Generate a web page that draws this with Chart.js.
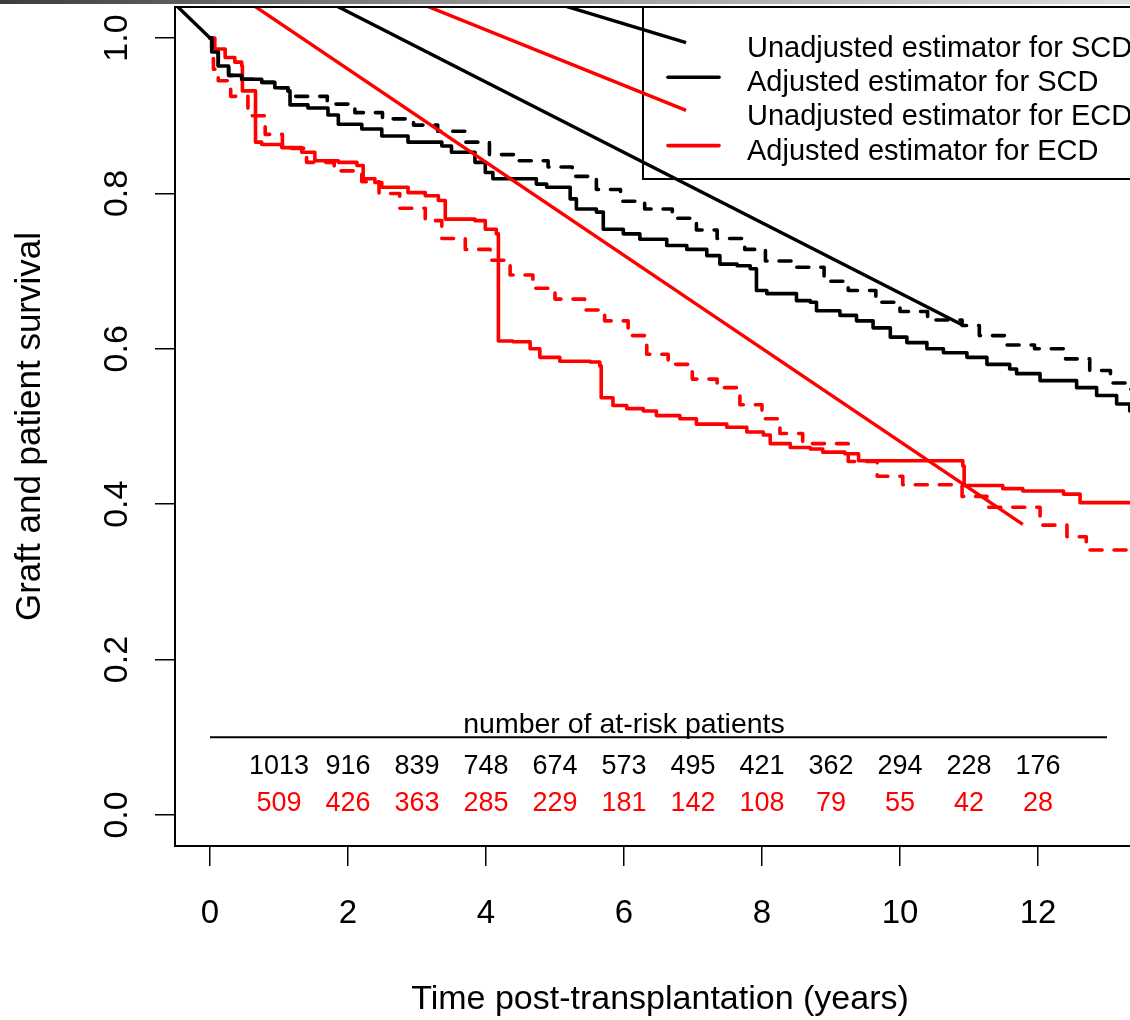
<!DOCTYPE html>
<html>
<head>
<meta charset="utf-8">
<script src="https://cdn.jsdelivr.net/npm/chart.js@4.4.1/dist/chart.umd.min.js"></script>
<style>
  html, body { margin: 0; padding: 0; background: #fff; overflow: hidden; }
  #wrap { position: relative; width: 1130px; height: 1020px; overflow: hidden; }
  #topbar { position: absolute; left: 0; top: 0; width: 1130px; height: 4px;
    background: linear-gradient(to right, #3c3c3c, #8e8e8e 40%, #dedede); }
  canvas { display: block; }
</style>
</head>
<body>
<div id="wrap">
  <canvas id="km" width="1145" height="1020"></canvas>
  <div id="topbar"></div>
</div>
<script>
const FONT = "'Liberation Sans', Arial, Helvetica, sans-serif";
const RED = '#ff0000';

const xTicks = [0, 2, 4, 6, 8, 10, 12];
const yTicks = [0, 0.2, 0.4, 0.6, 0.8, 1.0];

const legendLabels = [
  'Unadjusted estimator for SCD',
  'Adjusted estimator for SCD',
  'Unadjusted estimator for ECD',
  'Adjusted estimator for ECD'
];

// [years, survival] where each step lands
const scdAdjusted = [
  [0, 1.0], [0.025, 0.982], [0.12, 0.964], [0.27, 0.952], [0.46, 0.947], [0.75, 0.943],
  [0.94, 0.936], [1.13, 0.932], [1.16, 0.914], [1.42, 0.910], [1.71, 0.901], [1.86, 0.889],
  [2.20, 0.883], [2.49, 0.874], [2.87, 0.866], [3.36, 0.861], [3.50, 0.853], [3.84, 0.840],
  [3.99, 0.827], [4.10, 0.819], [4.73, 0.812], [4.88, 0.808], [5.22, 0.793], [5.31, 0.780],
  [5.60, 0.776], [5.70, 0.754], [5.99, 0.748], [6.23, 0.741], [6.62, 0.733], [6.91, 0.728],
  [7.20, 0.720], [7.39, 0.709], [7.64, 0.707], [7.83, 0.703], [7.92, 0.675], [8.07, 0.671],
  [8.50, 0.662], [8.70, 0.660], [8.79, 0.649], [9.13, 0.643], [9.37, 0.636], [9.61, 0.627],
  [9.86, 0.615], [10.10, 0.608], [10.39, 0.600], [10.63, 0.595], [10.97, 0.589], [11.26, 0.580],
  [11.59, 0.574], [11.69, 0.568], [12.03, 0.559], [12.56, 0.550], [12.85, 0.540], [13.14, 0.529],
  [13.33, 0.520], [13.60, 0.520]
];

const scdUnadjusted = [
  [0, 1.0], [0.025, 0.982], [0.12, 0.964], [0.27, 0.952], [0.46, 0.947], [0.75, 0.943],
  [0.94, 0.936], [1.13, 0.932], [1.20, 0.925], [1.70, 0.915], [2.10, 0.904], [2.50, 0.896],
  [2.95, 0.888], [3.30, 0.880], [3.70, 0.866], [4.05, 0.850], [4.45, 0.842], [4.90, 0.834],
  [5.25, 0.822], [5.60, 0.805], [5.95, 0.790], [6.30, 0.780], [6.70, 0.768], [7.05, 0.753],
  [7.35, 0.742], [7.75, 0.728], [8.05, 0.713], [8.45, 0.705], [8.90, 0.687], [9.25, 0.675],
  [9.65, 0.660], [10.00, 0.648], [10.40, 0.637], [10.90, 0.630], [11.15, 0.617], [11.55, 0.605],
  [11.95, 0.600], [12.40, 0.587], [12.75, 0.572], [13.05, 0.556], [13.33, 0.548], [13.60, 0.548]
];

const ecdAdjusted = [
  [0, 1.0], [0.07, 0.986], [0.22, 0.975], [0.36, 0.969], [0.46, 0.964], [0.47, 0.932],
  [0.66, 0.866], [0.75, 0.863], [1.04, 0.859], [1.33, 0.853], [1.52, 0.842], [1.86, 0.840],
  [2.13, 0.836], [2.22, 0.819], [2.39, 0.814], [2.49, 0.808], [2.87, 0.801], [3.12, 0.797],
  [3.31, 0.791], [3.41, 0.767], [3.84, 0.765], [3.99, 0.754], [4.15, 0.748], [4.18, 0.610],
  [4.39, 0.609], [4.64, 0.600], [4.78, 0.589], [5.07, 0.584], [5.51, 0.583], [5.65, 0.578],
  [5.67, 0.537], [5.84, 0.527], [6.04, 0.523], [6.28, 0.520], [6.47, 0.514], [6.81, 0.510],
  [7.05, 0.503], [7.49, 0.499], [7.78, 0.493], [8.02, 0.489], [8.12, 0.478], [8.41, 0.473],
  [8.70, 0.471], [8.88, 0.467], [9.20, 0.465], [9.40, 0.456], [10.91, 0.449], [10.93, 0.424],
  [11.49, 0.420], [11.78, 0.417], [12.37, 0.413], [12.61, 0.402], [13.60, 0.402]
];

const ecdUnadjusted = [
  [0, 1.0], [0.05, 0.960], [0.12, 0.945], [0.30, 0.925], [0.55, 0.900], [0.80, 0.876],
  [1.05, 0.858], [1.40, 0.840], [1.80, 0.829], [2.20, 0.815], [2.45, 0.800], [2.75, 0.781],
  [3.12, 0.765], [3.36, 0.742], [3.70, 0.728], [4.06, 0.714], [4.35, 0.695], [4.68, 0.678],
  [5.00, 0.664], [5.43, 0.650], [5.72, 0.636], [6.06, 0.617], [6.33, 0.593], [6.64, 0.580],
  [6.99, 0.561], [7.35, 0.550], [7.68, 0.528], [8.00, 0.510], [8.26, 0.491], [8.59, 0.478],
  [9.25, 0.455], [9.67, 0.436], [10.04, 0.425], [10.90, 0.410], [11.26, 0.396], [12.03, 0.373],
  [12.42, 0.358], [12.70, 0.341], [13.60, 0.341]
];

// stray straight strokes that all fan out of one point above the plot
const leaderOrigin = [-3.04, 1.262];
const leaderEnds = [[0, 1.0], [6.90, 0.994], [6.90, 0.907], [10.90, 0.631], [11.78, 0.374]];
const leaderColors = ['#000', '#000', RED, '#000', RED];

const atRiskTitle = 'number of at-risk patients';
const atRiskTimes = [1, 2, 3, 4, 5, 6, 7, 8, 9, 10, 11, 12];
const atRiskSCD = [1013, 916, 839, 748, 674, 573, 495, 421, 362, 294, 228, 176];
const atRiskECD = [509, 426, 363, 285, 229, 181, 142, 108, 79, 55, 42, 28];

const toXY = pts => pts.map(([x, y]) => ({ x, y }));

function kmLine(label, pts, color, dashed, order) {
  return {
    label, order,
    data: toXY(pts),
    borderColor: color,
    borderWidth: 3.6,
    borderDash: dashed ? [12, 12] : [],
    borderCapStyle: 'round',
    borderJoinStyle: 'round',
    stepped: 'before',
    pointRadius: 0,
    fill: false,
    clip: 0
  };
}

const leaders = leaderEnds.map((end, i) => ({
  label: 'leader' + i,
  order: -1,
  data: toXY([leaderOrigin, end]),
  borderColor: leaderColors[i],
  borderWidth: 3.4,
  pointRadius: 0,
  fill: false,
  clip: 0
}));

const kmFrame = {
  id: 'kmFrame',
  beforeDatasetsDraw(chart) {
    const { ctx, chartArea: a } = chart;
    // legend box sits under the strokes
    ctx.save();
    ctx.fillStyle = '#fff';
    ctx.fillRect(643, a.top, a.right - 643 + 10, 179 - a.top);
    ctx.strokeStyle = '#000';
    ctx.lineWidth = 2;
    ctx.strokeRect(643, a.top, a.right - 643 + 10, 179 - a.top);
    ctx.restore();
  },
  afterDatasetsDraw(chart) {
    const { ctx, chartArea: a, scales: { x, y } } = chart;
    ctx.save();
    // top edge of the box
    ctx.strokeStyle = '#000';
    ctx.lineWidth = 2;
    ctx.beginPath();
    ctx.moveTo(a.left - 1, a.top);
    ctx.lineTo(a.right, a.top);
    ctx.stroke();

    // y tick labels, parallel to the axis
    ctx.fillStyle = '#000';
    ctx.font = `34px ${FONT}`;
    ctx.textAlign = 'center';
    ctx.textBaseline = 'alphabetic';
    yTicks.forEach(v => {
      ctx.save();
      ctx.translate(a.left - 48, y.getPixelForValue(v));
      ctx.rotate(-Math.PI / 2);
      ctx.fillText(v.toFixed(1), 0, 0);
      ctx.restore();
    });

    // legend entries
    const lx0 = 668, lx1 = 719, tx = 747;
    ctx.font = `29px ${FONT}`;
    ctx.textAlign = 'left';
    legendLabels.forEach((lab, i) => {
      const base = 57 + i * 34.2;
      if (i === 1 || i === 3) {
        ctx.strokeStyle = i === 1 ? '#000' : RED;
        ctx.lineWidth = 3.6;
        ctx.lineCap = 'round';
        ctx.beginPath();
        ctx.moveTo(lx0, base - 14);
        ctx.lineTo(lx1, base - 14);
        ctx.stroke();
      }
      ctx.fillStyle = '#000';
      ctx.fillText(lab, tx, base);
    });

    // at-risk table
    ctx.strokeStyle = '#000';
    ctx.lineWidth = 2;
    ctx.lineCap = 'butt';
    ctx.beginPath();
    ctx.moveTo(x.getPixelForValue(0), y.getPixelForValue(0.10));
    ctx.lineTo(x.getPixelForValue(13), y.getPixelForValue(0.10));
    ctx.stroke();

    ctx.textAlign = 'center';
    ctx.textBaseline = 'middle';
    ctx.fillStyle = '#000';
    ctx.font = `28.5px ${FONT}`;
    ctx.fillText(atRiskTitle, x.getPixelForValue(6), y.getPixelForValue(0.116));
    ctx.font = `27px ${FONT}`;
    atRiskTimes.forEach((t, i) => {
      const px = x.getPixelForValue(t);
      ctx.fillStyle = '#000';
      ctx.fillText(String(atRiskSCD[i]), px, y.getPixelForValue(0.062));
      ctx.fillStyle = RED;
      ctx.fillText(String(atRiskECD[i]), px, y.getPixelForValue(0.0145));
    });
    ctx.restore();
  }
};

new Chart(document.getElementById('km').getContext('2d'), {
  type: 'line',
  data: {
    datasets: [
      ...leaders,
      kmLine(legendLabels[0], scdUnadjusted, '#000', true, 0),
      kmLine(legendLabels[1], scdAdjusted, '#000', false, 0),
      kmLine(legendLabels[2], ecdUnadjusted, RED, true, 1),
      kmLine(legendLabels[3], ecdAdjusted, RED, false, 1)
    ]
  },
  options: {
    responsive: false,
    animation: false,
    events: [],
    layout: { padding: { top: 7, right: 0, bottom: 0, left: 0 } },
    plugins: { legend: { display: false }, tooltip: { enabled: false } },
    scales: {
      x: {
        type: 'linear',
        min: -0.507,
        max: 13.551,
        afterBuildTicks: s => { s.ticks = xTicks.map(value => ({ value })); },
        afterFit: s => { s.height = 174; },
        grid: { drawOnChartArea: false, drawTicks: true, tickLength: 20, color: '#000', lineWidth: 1.5 },
        border: { display: true, color: '#000', width: 2 },
        ticks: { color: '#000', font: { family: FONT, size: 33 }, padding: 28, maxRotation: 0, autoSkip: false },
        title: {
          display: true, text: 'Time post-transplantation (years)', color: '#000',
          font: { family: FONT, size: 34 }, padding: { top: 0, bottom: 0 }
        }
      },
      y: {
        min: -0.04,
        max: 1.04,
        afterBuildTicks: s => { s.ticks = yTicks.map(value => ({ value })); },
        afterFit: s => { s.width = 175; },
        grid: { drawOnChartArea: false, drawTicks: true, tickLength: 20, color: '#000', lineWidth: 1.5 },
        border: { display: true, color: '#000', width: 2 },
        ticks: { display: false },
        title: {
          display: true, text: 'Graft and patient survival', color: '#000',
          font: { family: FONT, size: 35 }, padding: { top: 9, bottom: 0 }
        }
      }
    }
  },
  plugins: [kmFrame]
});
</script>
</body>
</html>
